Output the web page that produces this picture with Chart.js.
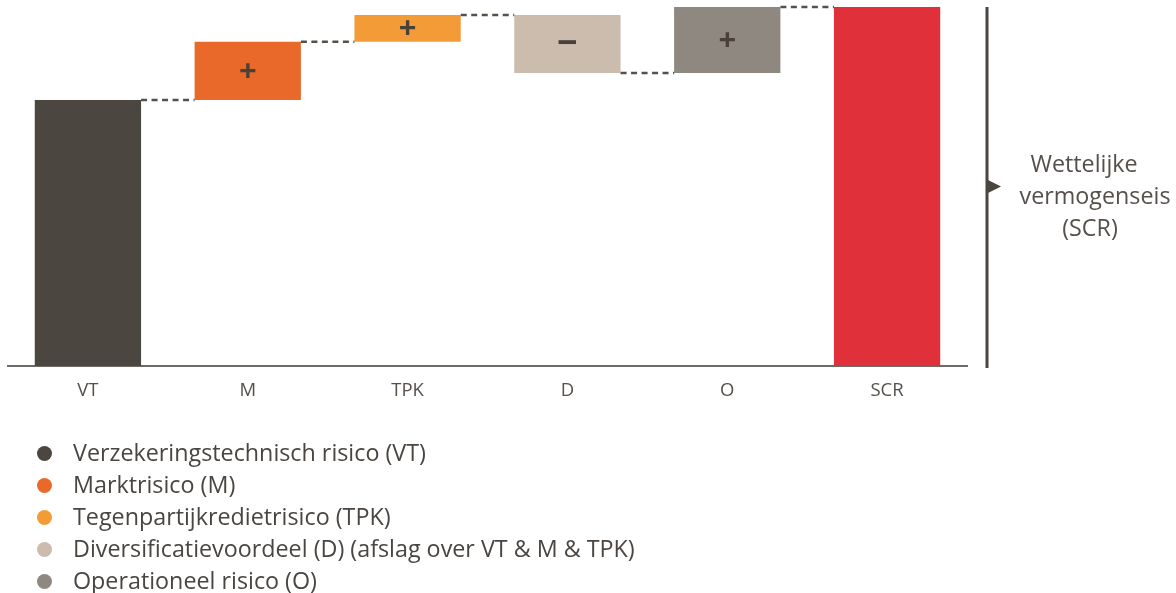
<!DOCTYPE html>
<html>
<head>
<meta charset="utf-8">
<script src="https://cdn.jsdelivr.net/npm/chart.js@4"></script>
<style>
  body { margin: 0; background: #fff; }
  #wrap { position: relative; width: 1176px; height: 593px; }
  canvas { position: absolute; left: 0; top: 0; }
  #legend { position: absolute; left: 37px; top: 436px; font-family: "Open Sans", sans-serif; font-size: 23.3px; color: #4a4540; }
  #legend div { height: 32px; line-height: 32px; white-space: nowrap; }
  #legend span { display: inline-block; width: 15px; height: 15px; border-radius: 50%; margin-right: 21px; vertical-align: 0px; }
</style>
</head>
<body>
<div id="wrap">
  <canvas id="chart" width="1176" height="593"></canvas>
  <div id="legend"></div>
</div>
<script>
// categories and risk amounts (SCR = 100)
const labels = ["VT", "M", "TPK", "D", "O", "SCR"];
const amounts = [74.1, 16.2, 7.5, -16.2, 18.4];
const signs = ["", "+", "+", "\u2212", "+", ""];
const colors = ["#4b4640", "#e8692a", "#f39b36", "#cbbcae", "#8e8880", "#e0313a"];
const legendTexts = [
  "Verzekeringstechnisch risico (VT)",
  "Marktrisico (M)",
  "Tegenpartijkredietrisico (TPK)",
  "Diversificatievoordeel (D) (afslag over VT & M & TPK)",
  "Operationeel risico (O)",
];

//build floating bars from running total
let ranges = [];
let total = 0;
for (const a of amounts) {
  ranges.push([total, total + a]);
  total += a;
}
ranges.push([0, total]);

//html legend
const legend = document.getElementById("legend");
legendTexts.forEach(function (t, i) {
  const row = document.createElement("div");
  row.innerHTML = '<span style="background:' + colors[i] + '"></span>';
  row.appendChild(document.createTextNode(t));
  legend.appendChild(row);
});

//dashed connectors, signs and the SCR bracket
const extras = {
  id: "extras",
  afterDatasetsDraw(chart) {
    const ctx = chart.ctx;
    const y = chart.scales.y;
    const bars = chart.getDatasetMeta(0).data;
    ctx.save();
    ctx.strokeStyle = "#555049";
    ctx.lineWidth = 2.5;
    ctx.setLineDash([6, 4.5]);
    for (let i = 0; i < bars.length - 1; i++) {
      const level = ranges[i][1];
      const py = y.getPixelForValue(level);
      ctx.beginPath();
      ctx.moveTo(bars[i].x + bars[i].width / 2, py);
      ctx.lineTo(bars[i + 1].x - bars[i + 1].width / 2, py);
      ctx.stroke();
    }
    ctx.setLineDash([]);

    ctx.fillStyle = "#4a4038";
    ctx.textAlign = "center";
    ctx.textBaseline = "middle";
    bars.forEach(function (b, i) {
      if (!signs[i]) return;
      ctx.font = (signs[i] === "+" ? "bold 31px" : "bold 36px") + " 'Open Sans', sans-serif";
      ctx.fillText(signs[i], b.x, (b.y + b.base) / 2 + 1);
    });

    const area = chart.chartArea;
    const lx = area.right + 20;
    ctx.strokeStyle = "#4a463f";
    ctx.lineWidth = 3;
    ctx.beginPath();
    ctx.moveTo(lx, area.top);
    ctx.lineTo(lx, area.bottom + 2);
    ctx.stroke();
    const my = (area.top + area.bottom) / 2;
    ctx.fillStyle = "#4a463f";
    ctx.beginPath();
    ctx.moveTo(lx, my - 7);
    ctx.lineTo(lx + 14, my);
    ctx.lineTo(lx, my + 7);
    ctx.closePath();
    ctx.fill();

    ctx.fillStyle = "#555049";
    ctx.font = "23.3px 'Open Sans', sans-serif";
    ctx.fillText("Wettelijke", 1084, my - 21);
    ctx.fillText("vermogenseis", 1095, my + 11);
    ctx.fillText("(SCR)", 1090, my + 43);
    ctx.restore();
  },
};

new Chart(document.getElementById("chart"), {
  type: "bar",
  data: {
    labels: labels,
    datasets: [
      {
        data: ranges,
        backgroundColor: colors,
        borderWidth: 0,
        categoryPercentage: 1,
        barPercentage: 0.665,
      },
    ],
  },
  options: {
    responsive: false,
    animation: false,
    layout: { padding: { left: 8, right: 209, top: 7, bottom: 177 } },
    plugins: { legend: { display: false }, tooltip: { enabled: false } },
    scales: {
      x: {
        grid: { display: false, drawTicks: false },
        border: { color: "#6e6a66", width: 2 },
        ticks: { color: "#555049", font: { family: "'Open Sans', sans-serif", size: 18.5 }, padding: 14 },
        afterFit: function (s) { s.height = 50; },
      },
      y: {
        display: false,
        min: 0,
        max: 100,
      },
    },
  },
  plugins: [extras],
});
</script>
</body>
</html>
